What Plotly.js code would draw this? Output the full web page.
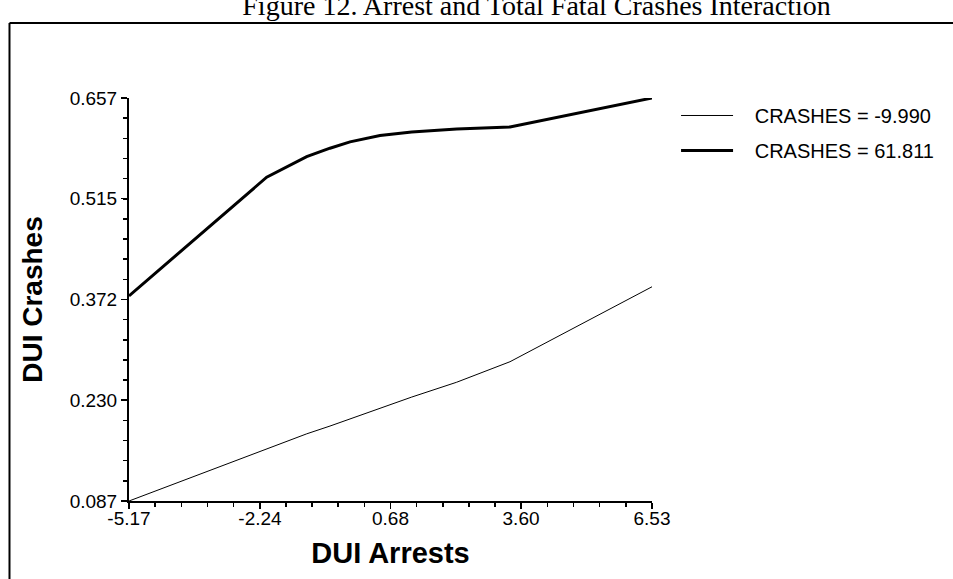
<!DOCTYPE html>
<html>
<head>
<meta charset="utf-8">
<script src="https://cdn.plot.ly/plotly-3.0.1.min.js"></script>
<style>html,body{margin:0;padding:0;background:#fff;}#chart{width:953px;height:579px;}</style>
</head>
<body>
<div id="chart"></div>
<script>
// DUI Arrests (x) sample points
const arrests = [-5.17, -2.09, -1.195, -0.674, -0.226, 0.445, 1.154, 2.161, 3.353, 6.53];
// DUI Crashes for CRASHES = -9.990 (thin line)
const crashesLow = [0.087, 0.160, 0.182, 0.193, 0.203, 0.219, 0.234, 0.255, 0.284, 0.390];
// DUI Crashes for CRASHES = 61.811 (thick line)
const crashesHigh = [0.377, 0.545, 0.574, 0.586, 0.595, 0.604, 0.609, 0.613, 0.616, 0.657];
const seriesNames = ["CRASHES = -9.990", "CRASHES = 61.811"];
const xTickVals = [-5.17, -2.24, 0.68, 3.60, 6.53];
const xTickText = ["-5.17", "-2.24", "0.68", "3.60", "6.53"];
const yTickVals = [0.087, 0.230, 0.372, 0.515, 0.657];
const yTickText = ["0.087", "0.230", "0.372", "0.515", "0.657"];

const sans = "Liberation Sans, Arial, sans-serif";
const pad = "\u00A0\u00A0\u00A0";

const traces = [
  {x: arrests, y: crashesLow, name: pad + seriesNames[0], mode: "lines", legendgroup: "a",
   line: {color: "#000", width: 1}},
  {x: arrests, y: crashesHigh, name: pad + seriesNames[1], mode: "lines", legendgroup: "b",
   line: {color: "#000", width: 3}}
];

const layout = {
  width: 953, height: 579,
  margin: {l: 129, r: 301, t: 98, b: 78},
  paper_bgcolor: "#fff", plot_bgcolor: "#fff",
  title: {text: "Figure 12. Arrest and Total Fatal Crashes Interaction",
          font: {family: "Liberation Serif, Times New Roman, serif", size: 28, color: "#000"},
          xref: "container", x: 0.563, xanchor: "center",
          yref: "container", y: 0.991, yanchor: "middle"},
  xaxis: {range: [-5.17, 6.53], tickmode: "array", tickvals: xTickVals, ticktext: xTickText,
          showgrid: false, zeroline: false, showline: true, linecolor: "#000", linewidth: 1.5,
          ticks: "outside", ticklen: 6, tickwidth: 1.5, tickcolor: "#000", ticklabelstandoff: -6,
          minor: {tick0: -5.17, dtick: 0.585, ticks: "outside", ticklen: 4, tickwidth: 1.5, tickcolor: "#000", showgrid: false},
          tickfont: {family: sans, size: 19, color: "#000"},
          title: {text: "<b>DUI Arrests</b>", font: {family: sans, size: 29, color: "#000"}, standoff: 14}},
  yaxis: {range: [0.087, 0.657], tickmode: "array", tickvals: yTickVals, ticktext: yTickText,
          showgrid: false, zeroline: false, showline: true, linecolor: "#000", linewidth: 2,
          ticks: "outside", ticklen: 6, tickwidth: 1.5, tickcolor: "#000",
          minor: {tick0: 0.087, dtick: 0.0285, ticks: "outside", ticklen: 4, tickwidth: 1.5, tickcolor: "#000", showgrid: false},
          tickfont: {family: sans, size: 19, color: "#000"},
          title: {text: "<b>DUI Crashes</b>", font: {family: sans, size: 28, color: "#000"}, standoff: 19}},
  showlegend: true,
  legend: {x: 1.046, xanchor: "left", y: 1.005, yanchor: "top", xref: "paper", yref: "paper",
           font: {family: sans, size: 20, color: "#000"}, traceorder: "grouped", tracegroupgap: 6,
           itemwidth: 52, bgcolor: "rgba(0,0,0,0)", borderwidth: 0},
  shapes: [
    {type: "line", xref: "paper", yref: "paper", x0: -0.2285, x1: 1.7, y0: 1.186, y1: 1.186,
     line: {color: "#000", width: 2}},
    {type: "line", xref: "paper", yref: "paper", x0: -0.2285, x1: -0.2285, y0: 1.186, y1: -0.3,
     line: {color: "#000", width: 2}}
  ]
};

Plotly.newPlot("chart", traces, layout, {staticPlot: true, displayModeBar: false});
</script>
</body>
</html>
